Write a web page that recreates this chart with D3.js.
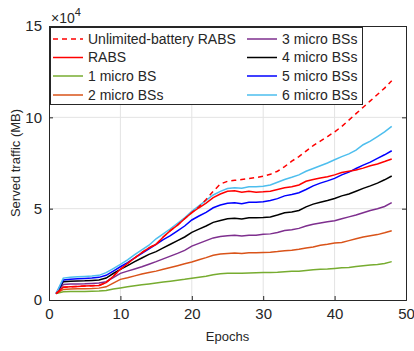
<!DOCTYPE html>
<html>
<head>
<meta charset="utf-8">
<script src="https://cdn.jsdelivr.net/npm/d3@7"></script>
<style>
  body { margin: 0; background: #fff; }
  svg { display: block; font-family: "Liberation Sans", Arial, sans-serif; }
</style>
</head>
<body>
<svg id="chart"></svg>
<script>
// Datos (valores en unidades de 10^4 MB)
const epochs = d3.range(1, 49);

const unlimitedRabs = [0.35, 0.7, 0.72, 0.74, 0.76, 0.78, 0.8, 0.95, 1.3, 1.68, 2.0, 2.3, 2.6, 2.85, 3.05, 3.45, 3.8, 4.1, 4.45, 4.78,
  5.1, 5.5, 5.95, 6.35, 6.5, 6.55, 6.6, 6.65, 6.7, 6.78, 6.88, 7.05, 7.3, 7.6, 7.85, 8.15, 8.45, 8.7, 8.95, 9.2,
  9.5, 9.85, 10.2, 10.55, 10.9, 11.25, 11.6, 12.0];
const rabs = [0.35, 0.7, 0.72, 0.74, 0.76, 0.78, 0.8, 0.95, 1.3, 1.68, 2.0, 2.3, 2.6, 2.85, 3.05, 3.45, 3.8, 4.1, 4.45, 4.78,
  5.05, 5.3, 5.6, 5.8, 5.95, 5.98, 5.9, 5.95, 5.9, 5.92, 5.95, 6.05, 6.15, 6.2, 6.3, 6.5, 6.6, 6.68, 6.75, 6.85,
  6.98, 7.05, 7.12, 7.22, 7.35, 7.45, 7.58, 7.72];
const micro1 = [0.35, 0.45, 0.46, 0.46, 0.47, 0.48, 0.49, 0.52, 0.6, 0.66, 0.72, 0.78, 0.83, 0.88, 0.93, 0.98, 1.03, 1.08, 1.13, 1.19,
  1.25, 1.3, 1.38, 1.44, 1.46, 1.47, 1.46, 1.48, 1.49, 1.5, 1.51, 1.52, 1.55, 1.57, 1.58, 1.62, 1.66, 1.68, 1.7, 1.73,
  1.76, 1.78, 1.83, 1.88, 1.92, 1.95, 2.0, 2.1];
const micro2 = [0.35, 0.58, 0.6, 0.61, 0.62, 0.63, 0.65, 0.72, 0.92, 1.13, 1.22, 1.32, 1.42, 1.5, 1.58, 1.68, 1.78, 1.88, 1.98, 2.08,
  2.2, 2.32, 2.45, 2.52, 2.55, 2.57, 2.55, 2.58, 2.58, 2.6, 2.62, 2.65, 2.7, 2.72, 2.78, 2.85, 2.9, 3.0, 3.05, 3.12,
  3.15, 3.25, 3.35, 3.45, 3.52, 3.58, 3.68, 3.79];
const micro3 = [0.35, 0.85, 0.87, 0.88, 0.89, 0.91, 0.93, 1.0, 1.22, 1.46, 1.58, 1.7, 1.82, 1.96, 2.1, 2.25, 2.4, 2.55, 2.72, 2.95,
  3.1, 3.25, 3.4, 3.47, 3.52, 3.55, 3.5, 3.55, 3.55, 3.6, 3.62, 3.7, 3.8, 3.85, 3.92, 4.05, 4.15, 4.22, 4.28, 4.34,
  4.45, 4.55, 4.65, 4.78, 4.9, 5.0, 5.12, 5.33];
const micro4 = [0.35, 1.0, 1.02, 1.04, 1.05, 1.07, 1.09, 1.2, 1.45, 1.68, 1.88, 2.1, 2.3, 2.5, 2.65, 2.85, 3.05, 3.25, 3.45, 3.7,
  3.88, 4.05, 4.25, 4.35, 4.45, 4.47, 4.43, 4.5, 4.5, 4.52, 4.55, 4.65, 4.78, 4.82, 4.9, 5.1, 5.25, 5.35, 5.45, 5.56,
  5.7, 5.8, 5.95, 6.11, 6.25, 6.4, 6.58, 6.79];
const micro5 = [0.35, 1.1, 1.14, 1.16, 1.18, 1.2, 1.24, 1.35, 1.58, 1.82, 2.05, 2.3, 2.55, 2.8, 3.05, 3.3, 3.52, 3.78, 4.05, 4.38,
  4.6, 4.8, 5.05, 5.2, 5.3, 5.33, 5.27, 5.35, 5.35, 5.38, 5.45, 5.55, 5.7, 5.78, 5.87, 6.05, 6.25, 6.4, 6.52, 6.66,
  6.85, 7.0, 7.2, 7.38, 7.55, 7.75, 7.95, 8.17];
const micro6 = [0.35, 1.2, 1.25, 1.27, 1.29, 1.31, 1.35, 1.5, 1.72, 1.95, 2.2, 2.48, 2.75, 3.0, 3.35, 3.62, 3.9, 4.2, 4.5, 4.85,
  5.15, 5.45, 5.75, 5.95, 6.1, 6.15, 6.12, 6.2, 6.2, 6.23, 6.3, 6.45, 6.6, 6.72, 6.85, 7.05, 7.2, 7.35, 7.5, 7.68,
  7.85, 8.0, 8.2, 8.5, 8.7, 8.95, 9.2, 9.5];

const seriesNames = ['Unlimited-battery RABS', 'RABS', '1 micro BS', '2 micro BSs',
  '3 micro BSs', '4 micro BSs', '5 micro BSs', '6 micro BSs'];
const seriesValues = [unlimitedRabs, rabs, micro1, micro2, micro3, micro4, micro5, micro6];
const seriesColors = ['#ff0000', '#ff0000', '#77ac30', '#d95319', '#7e2f8e', '#000000', '#0000ff', '#4dbeee'];

const xTicks = [0, 10, 20, 30, 40, 50];
const yTicks = [0, 5, 10, 15];

// Dimensiones
const width = 414;
const height = 351;
const margin = { top: 26, right: 8, bottom: 51, left: 49 };
const axisColor = '#262626';

const svg = d3.select('#chart')
  .attr('width', width)
  .attr('height', height);

const x = d3.scaleLinear().domain([0, 50]).range([margin.left, width - margin.right]);
const y = d3.scaleLinear().domain([0, 15]).range([height - margin.bottom, margin.top]);

// Rejilla
svg.append('g')
  .selectAll('line')
  .data(xTicks.slice(1, -1))
  .enter().append('line')
  .attr('x1', d => x(d)).attr('x2', d => x(d))
  .attr('y1', y(0)).attr('y2', y(15))
  .attr('stroke', '#e3e3e3').attr('stroke-width', 1);

svg.append('g')
  .selectAll('line')
  .data(yTicks.slice(1, -1))
  .enter().append('line')
  .attr('x1', x(0)).attr('x2', x(50))
  .attr('y1', d => y(d)).attr('y2', d => y(d))
  .attr('stroke', '#e3e3e3').attr('stroke-width', 1);

// Ejes (ticks hacia dentro)
const tickLen = 4;
const xAxis = svg.append('g')
  .attr('transform', `translate(0,${y(0)})`)
  .call(d3.axisBottom(x).tickValues(xTicks).tickSize(-tickLen).tickPadding(8));
const yAxis = svg.append('g')
  .attr('transform', `translate(${x(0)},0)`)
  .call(d3.axisLeft(y).tickValues(yTicks).tickSize(-tickLen).tickPadding(7));
const xTop = svg.append('g')
  .attr('transform', `translate(0,${y(15)})`)
  .call(d3.axisTop(x).tickValues(xTicks).tickSize(-tickLen).tickFormat(''));
const yRight = svg.append('g')
  .attr('transform', `translate(${x(50)},0)`)
  .call(d3.axisRight(y).tickValues(yTicks).tickSize(-tickLen).tickFormat(''));

[xAxis, yAxis, xTop, yRight].forEach(g => {
  g.select('.domain').attr('stroke', axisColor);
  g.selectAll('.tick line').attr('stroke', axisColor);
  g.selectAll('.tick text')
    .attr('fill', axisColor)
    .style('font-size', '15px')
    .style('font-family', '"Liberation Sans", Arial, sans-serif');
});

// Multiplicador x10^4
const mult = svg.append('text')
  .attr('x', x(0) + 2)
  .attr('y', 23)
  .attr('fill', axisColor)
  .style('font-size', '14px');
mult.append('tspan').text('\u00d710');
mult.append('tspan').attr('dy', -7).style('font-size', '11px').text('4');

// Lineas
const line = d3.line()
  .x((d, i) => x(epochs[i]))
  .y(d => y(d));

const order = [2, 3, 4, 5, 6, 7, 1, 0];
svg.append('g')
  .selectAll('path')
  .data(order)
  .enter().append('path')
  .attr('d', i => line(seriesValues[i]))
  .attr('fill', 'none')
  .attr('stroke', i => seriesColors[i])
  .attr('stroke-width', 1.5)
  .attr('stroke-dasharray', i => i === 0 ? '5,4' : null);

// Titulos de ejes
svg.append('text')
  .attr('x', (x(0) + x(50)) / 2)
  .attr('y', 341)
  .attr('text-anchor', 'middle')
  .attr('fill', axisColor)
  .style('font-size', '13px')
  .text('Epochs');

svg.append('text')
  .attr('transform', `translate(20,${(y(0) + y(15)) / 2}) rotate(-90)`)
  .attr('text-anchor', 'middle')
  .attr('fill', axisColor)
  .style('font-size', '13px')
  .text('Served traffic (MB)');

// Leyenda
const legend = svg.append('g').attr('id', 'legend');
legend.append('rect')
  .attr('x', 50.5).attr('y', 27.5)
  .attr('width', 312).attr('height', 77)
  .attr('fill', '#fff')
  .attr('stroke', axisColor).attr('stroke-width', 1);

const colX = [53, 247];
const rowY = [39, 57.5, 76, 95];
const items = legend.selectAll('g.item')
  .data(seriesNames)
  .enter().append('g')
  .attr('class', 'item')
  .attr('transform', (d, i) => `translate(${colX[Math.floor(i / 4)]},${rowY[i % 4]})`);

items.append('line')
  .attr('x1', 0).attr('x2', 30)
  .attr('stroke', (d, i) => seriesColors[i])
  .attr('stroke-width', 1.5)
  .attr('stroke-dasharray', (d, i) => i === 0 ? '5,4' : null);

items.append('text')
  .attr('x', 35)
  .attr('dy', '0.35em')
  .attr('fill', axisColor)
  .style('font-size', '14px')
  .text(d => d);
</script>
</body>
</html>
